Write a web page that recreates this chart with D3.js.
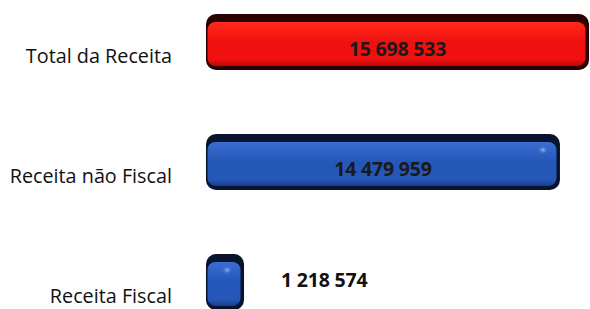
<!DOCTYPE html>
<html>
<head>
<meta charset="utf-8">
<script src="https://cdn.jsdelivr.net/npm/d3@7"></script>
<style>
  body { margin: 0; background: #fff; }
  svg { display: block; }
</style>
</head>
<body>
<div class="chart"></div>
<script>
const categories = ["Total da Receita", "Receita não Fiscal", "Receita Fiscal"];
const values = [15698533, 14479959, 1218574];
const barColors = ["red", "blue", "blue"];

const w = 590;
const h = 309;
const left = 206;
const cap = 9;
const barH = 56;

const palette = {
    red: { top: "#2a0000", light: "#ff2a1a", mid: "#f01010", dark: "#b80808" },
    blue: { top: "#08142e", light: "#3a6ed0", mid: "#2557b9", dark: "#173e8e" },
};

const fmt = (v) => d3.format(",")(v).replace(/,/g, " ");

const svg = d3
    .select(".chart")
    .append("svg")
    .attr("width", w)
    .attr("height", h);

const xScale = d3.scaleLinear().domain([0, d3.max(values)]).range([0, 374]);
const yScale = d3.scalePoint().domain(categories).range([42, 282]);

// gradients for the 3d look
const defs = svg.append("defs");
Object.entries(palette).forEach(([name, c]) => {
    const g = defs
        .append("linearGradient")
        .attr("id", "grad-" + name)
        .attr("x1", 0).attr("y1", 0).attr("x2", 0).attr("y2", 1);
    g.append("stop").attr("offset", "0%").attr("stop-color", c.light);
    g.append("stop").attr("offset", "45%").attr("stop-color", c.mid);
    g.append("stop").attr("offset", "85%").attr("stop-color", c.mid);
    g.append("stop").attr("offset", "100%").attr("stop-color", c.dark);

    const s = defs
        .append("radialGradient")
        .attr("id", "spot-" + name);
    s.append("stop").attr("offset", "0%").attr("stop-color", "#9fc0ff").attr("stop-opacity", 0.9);
    s.append("stop").attr("offset", "100%").attr("stop-color", c.mid).attr("stop-opacity", 0);
});

const rows = svg
    .append("g")
    .selectAll("g")
    .data(categories)
    .join("g")
    .attr("transform", (d) => `translate(${left},${yScale(d) - barH / 2})`);

// outer dark body
rows.append("rect")
    .attr("width", (d, i) => xScale(values[i]) + cap)
    .attr("height", barH)
    .attr("rx", 10)
    .attr("fill", (d, i) => palette[barColors[i]].top);

// front face
rows.append("rect")
    .attr("x", 1.5)
    .attr("y", 8)
    .attr("width", (d, i) => xScale(values[i]) + cap - 5)
    .attr("height", barH - 12)
    .attr("rx", 8)
    .attr("fill", (d, i) => `url(#grad-${barColors[i]})`);

// highlight near the right end of the blue bars
rows.filter((d, i) => barColors[i] === "blue")
    .append("ellipse")
    .attr("cx", (d) => xScale(values[categories.indexOf(d)]) + cap - 17)
    .attr("cy", 16)
    .attr("rx", 6)
    .attr("ry", 5)
    .attr("fill", "url(#spot-blue)");

// category labels
svg.append("g")
    .selectAll("text")
    .data(categories)
    .join("text")
    .attr("x", 172)
    .attr("y", (d) => yScale(d) + 16)
    .attr("text-anchor", "end")
    .attr("dominant-baseline", "middle")
    .attr("font-family", "'Open Sans', sans-serif")
    .attr("font-size", 19.8)
    .attr("fill", "#111")
    .text((d) => d);

// value labels, inside the bar when it is wide enough
const inside = (d) => xScale(d) + cap > 120;
svg.append("g")
    .selectAll("text")
    .data(values)
    .join("text")
    .attr("x", (d) => {
        const bw = xScale(d) + cap;
        return inside(d) ? left + bw / 2 : left + bw + 37;
    })
    .attr("y", (d, i) => yScale(categories[i]) + (inside(d) ? 9 : 0))
    .attr("text-anchor", (d) => (inside(d) ? "middle" : "start"))
    .attr("dominant-baseline", "middle")
    .attr("font-family", "'Open Sans', sans-serif")
    .attr("font-weight", "bold")
    .attr("font-size", 19.5)
    .attr("letter-spacing", -0.2)
    .attr("fill", (d) => (inside(d) ? "#1a1a1a" : "#111"))
    .text((d) => fmt(d));
</script>
</body>
</html>
